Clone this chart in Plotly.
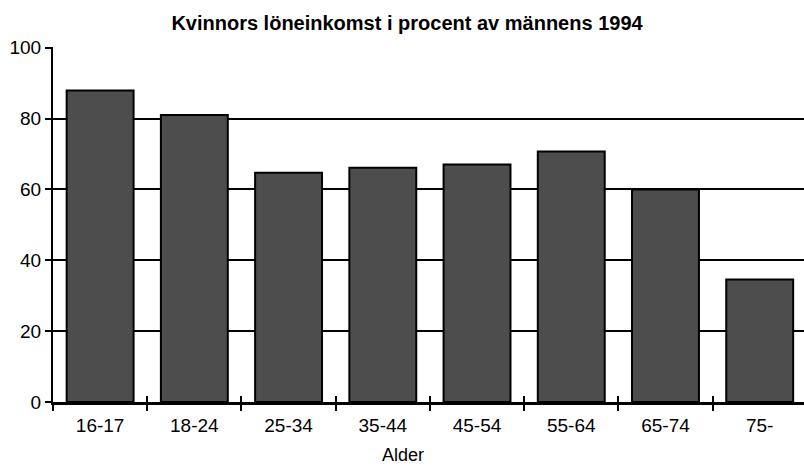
import plotly.graph_objects as go

# Women's wage income as a percentage of men's, by age group (1994)
age_groups = ["16-17", "18-24", "25-34", "35-44", "45-54", "55-64", "65-74", "75-"]
percent_of_men = [87.9, 81.0, 64.7, 66.1, 67.0, 70.7, 60.0, 34.6]
y_ticks = [0, 20, 40, 60, 80, 100]

title_text = "<b>Kvinnors löneinkomst i procent av männens 1994</b>"
x_title = "Alder"

FONT = "Arial, 'Liberation Sans', sans-serif"
W, H = 804, 470
M_L, M_R, M_T, M_B = 53, 0, 47, 68

fig = go.Figure()

fig.add_trace(go.Bar(
    x=age_groups,
    y=percent_of_men,
    marker=dict(color="#4d4d4d", line=dict(color="black", width=2)),
    hoverinfo="x+y",
))

# invisible companion trace carrying the inward half of the crossing x ticks
fig.add_trace(go.Scatter(
    x=age_groups,
    y=percent_of_men,
    xaxis="x2",
    mode="markers",
    marker=dict(opacity=0),
    hoverinfo="skip",
    showlegend=False,
))

cat_range = [-0.5, len(age_groups) - 0.53]

fig.update_layout(
    width=W,
    height=H,
    margin=dict(l=M_L, r=M_R, t=M_T, b=M_B),
    paper_bgcolor="white",
    plot_bgcolor="white",
    showlegend=False,
    bargap=0.29,
    font=dict(family=FONT, color="black", size=19),
    title=dict(
        text=title_text,
        font=dict(family=FONT, size=20, color="black"),
        x=407 / W,
        xanchor="center",
        xref="container",
        y=1 - 23 / H,
        yanchor="middle",
        yref="container",
    ),
    xaxis=dict(
        type="category",
        categoryorder="array",
        categoryarray=age_groups,
        range=cat_range,
        tickson="boundaries",
        ticks="outside",
        ticklen=6,
        tickwidth=2,
        tickcolor="black",
        showline=True,
        linecolor="black",
        linewidth=3,
        showgrid=False,
        ticklabelstandoff=4,
        tickfont=dict(family=FONT, size=19, color="black"),
    ),
    xaxis2=dict(
        type="category",
        categoryorder="array",
        categoryarray=age_groups,
        overlaying="x",
        matches="x",
        range=cat_range,
        tickson="boundaries",
        ticks="inside",
        ticklen=6,
        tickwidth=2,
        tickcolor="black",
        showticklabels=False,
        showgrid=False,
        showline=False,
    ),
    yaxis=dict(
        range=[0, 100.2],
        tickvals=y_ticks,
        ticktext=[str(v) for v in y_ticks],
        ticks="outside",
        ticklen=6,
        tickwidth=2,
        tickcolor="black",
        showline=True,
        linecolor="black",
        linewidth=2,
        showgrid=True,
        gridcolor="black",
        gridwidth=2,
        zeroline=False,
        tickfont=dict(family=FONT, size=19, color="black"),
    ),
    annotations=[
        dict(
            text=x_title,
            xref="paper",
            yref="paper",
            x=(403 - M_L) / (W - M_L - M_R),
            y=-(455 - (H - M_B)) / (H - M_T - M_B),
            xanchor="center",
            yanchor="middle",
            showarrow=False,
            font=dict(family=FONT, size=18, color="black"),
        )
    ],
)

fig.write_html("out.html")
